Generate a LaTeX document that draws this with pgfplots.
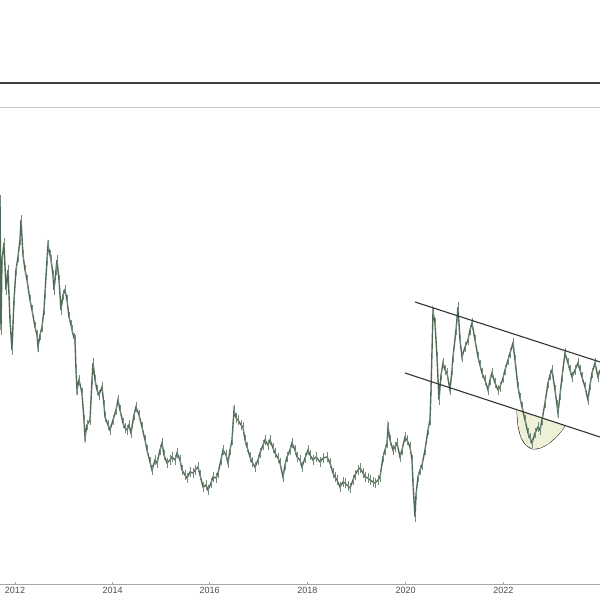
\documentclass[border=0pt]{standalone}
\usepackage{pgfplots}
\pgfplotsset{compat=1.18}
\usepackage{fontspec}
\setmainfont{Liberation Sans}
\definecolor{price}{HTML}{4F6B57}
\definecolor{cupfill}{HTML}{EEF0D8}
\definecolor{chan}{HTML}{333333}
\begin{document}
\begin{tikzpicture}
\useasboundingbox (0,0) rectangle (600pt,600pt);
\clip (0,0) rectangle (600pt,600pt);
\begin{axis}[
  at={(0pt,16pt)}, anchor=south west,
  scale only axis, width=600pt, height=501pt,
  xmin=0, xmax=600, ymin=16, ymax=517,
  clip=false,
  axis y line=none,
  axis x line*=bottom,
  x axis line style={gray!70, line width=0.8pt, -},
  xtick={15,112.7,209.7,307.3,405.7,503.3,601},
  xticklabels={2012,2014,2016,2018,2020,2022,2024},
  major tick length=2.5pt, tick align=inside,
  tick style={gray!70, line width=0.6pt},
  xticklabel style={font=\fontsize{9}{10}\selectfont, text=black!70, yshift=0pt},
  /pgf/number format/assume math mode=true,
]
% top frame lines
\addplot[black!75, line width=1.3pt] coordinates {(0,517) (600,517)};
\addplot[black!20, line width=0.8pt] coordinates {(0,493) (600,493)};
% cup
\addplot[fill=cupfill, draw=chan, line width=0.9pt, smooth] coordinates {
(517,190) (518,175) (521,163) (526,155) (533,151) (540,152) (548,156) (556,163) (562,170) (565,174.5)};
\addplot[fill=cupfill, draw=none] coordinates {
(517,190) (518,175) (521,163) (526,155) (533,151) (540,152) (548,156) (556,163) (562,170) (565,174.5) (517,190)};
% price series
\addplot[price, line width=1.4pt, mark=none,
  error bars/.cd, y dir=both, y fixed=5,
  error bar style={price!80, line width=0.6pt}, error mark=none] coordinates {
(0,400) (1,270) (2,340) (4,357) (6,310) (8,330) (10,280) (12,250) (14,300) (16,330) (18,343) (20,360) (21,380) (23,345) (25,330) (27,320) (30,300) (32,290) (35,273) (37,265) (38,253) (40,265) (42,273) (44,290) (45,307) (47,340) (48,355) (50,345) (51,340) (53,325) (54,310) (56,330) (57,340) (59,320) (61,290) (63,305) (65,310) (67,300) (69,283) (71,275) (72,270) (74,262) (75,260) (76,230) (77,210) (79,220) (82,207) (84,180) (85,163) (87,175) (90,180) (92,220) (93,237) (95,220) (97,210) (99,205) (102,213) (104,195) (105,183) (108,175) (110,170) (113,180) (116,190) (118,200) (120,190) (123,177) (125,172) (127,170) (129,175) (131,167) (134,185) (136,193) (139,185) (142,173) (145,160) (147,150) (150,138) (152,130) (155,140) (157,137) (160,150) (162,157) (164,145) (167,137) (170,140) (172,143) (175,140) (177,147) (180,140) (182,130) (185,125) (187,122) (190,128) (193,127) (195,130) (198,133) (200,125) (203,113) (206,115) (208,110) (211,117) (213,123) (216,122) (218,127) (221,140) (223,150) (226,145) (228,137) (230,150) (232,160) (234,190) (236,182) (238,180) (241,175) (243,173) (245,160) (247,153) (250,143) (252,138) (255,133) (258,140) (260,147) (263,155) (265,160) (268,155) (270,160) (273,152) (275,147) (278,142) (280,137) (283,123) (285,135) (287,143) (290,150) (292,157) (295,150) (297,143) (300,140) (302,133) (305,142) (308,150) (310,145) (313,140) (316,143) (320,138) (323,142) (327,143) (330,137) (333,127) (335,123) (337,120) (340,113) (343,118) (345,117) (348,114) (350,112) (353,120) (355,125) (358,130) (360,132) (363,127) (365,123) (368,122) (370,120) (373,118) (375,117) (378,120) (380,123) (383,143) (385,150) (387,157) (388,173) (390,160) (393,150) (395,153) (397,157) (400,143) (402,150) (405,163) (407,160) (410,153) (412,140) (413,117) (415,83) (416,105) (418,123) (420,130) (422,135) (425,150) (428,170) (430,180) (431,210) (433,288) (435,277) (437,243) (439,200) (441,225) (443,237) (445,230) (447,227) (450,210) (452,230) (453,243) (456,270) (458,293) (460,260) (462,243) (465,253) (468,260) (470,270) (472,277) (475,260) (478,243) (480,235) (482,227) (485,220) (488,210) (490,220) (492,227) (495,217) (498,210) (500,213) (503,222) (505,230) (508,240) (510,247) (513,257) (515,240) (518,213) (520,202) (522,193) (525,180) (528,167) (530,162) (532,157) (535,167) (538,173) (540,170) (542,180) (545,197) (548,217) (550,225) (552,230) (555,210) (557,195) (558,187) (560,205) (562,223) (565,247) (568,237) (570,230) (572,223) (575,230) (578,237) (580,230) (582,223) (585,213) (588,200) (590,215) (592,227) (595,237) (598,223) (600,230)};
% channel lines
\addplot[chan, line width=1.1pt] coordinates {(415,298) (600,238)};
\addplot[chan, line width=1.1pt] coordinates {(405,227) (600,163)};
\end{axis}
\end{tikzpicture}
\end{document}
